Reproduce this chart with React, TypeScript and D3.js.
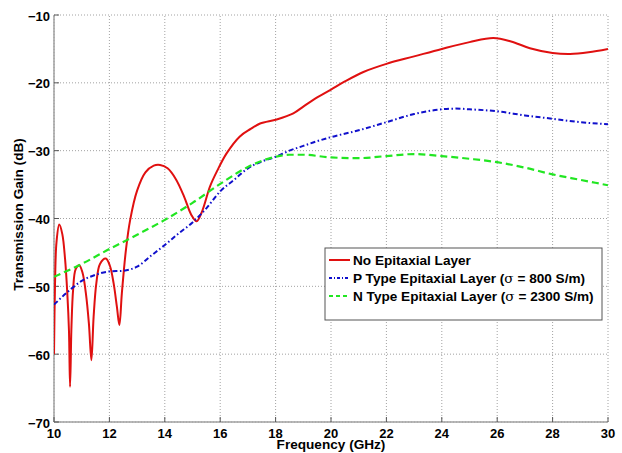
import React from 'react';
import * as d3 from 'd3';

// frequency (GHz) / gain (dB)
const redFreq = [10.0, 10.04, 10.09, 10.19, 10.3, 10.4, 10.48, 10.54, 10.58, 10.63, 10.69, 10.78, 10.91, 11.03, 11.15, 11.26, 11.35, 11.43, 11.53, 11.66, 11.87, 12.02, 12.15, 12.27, 12.36, 12.45, 12.6, 12.75, 13.0, 13.3, 13.6, 13.83, 14.1, 14.4, 14.7, 14.95, 15.15, 15.35, 15.63, 15.9, 16.23, 16.71, 17.1, 17.44, 18.04, 18.64, 19.0, 19.36, 20.0, 20.5, 21.17, 22.0, 23.0, 24.0, 25.0, 25.86, 26.5, 27.18, 28.0, 28.63, 29.3, 30.0];
const redGain = [-60, -49, -43.5, -40.9, -42.3, -46, -51, -56.5, -64.8, -56, -50.5, -47.5, -46.9, -48, -51, -55.5, -60.9, -54.5, -49.5, -46.7, -45.9, -47, -49.5, -53, -55.7, -51, -44.5, -40.2, -35.9, -33.2, -32.2, -32.1, -32.6, -34.2, -36.8, -39.4, -40.4, -38.9, -35.3, -32.9, -30.4, -27.9, -26.8, -26.0, -25.4, -24.5, -23.5, -22.5, -21.0, -19.8, -18.4, -17.2, -16.1, -15.0, -14.0, -13.4, -13.9, -14.9, -15.6, -15.75, -15.5, -15.0];

const blueFreq = [10, 10.5, 11, 11.5, 12, 12.5, 13, 13.5, 14, 14.5, 15, 15.5, 16, 16.5, 17, 17.5, 18, 18.5, 19, 19.5, 20, 21, 22, 23, 24, 24.5, 25, 26, 27, 28, 29, 30];
const blueGain = [-52.7, -50.8, -49.2, -48.3, -47.8, -47.7, -47.1, -45.5, -43.9, -42.2, -40.6, -38.5, -36.0, -34.3, -32.6, -31.6, -30.9, -30.0, -29.3, -28.6, -28.0, -27.0, -25.8, -24.6, -23.9, -23.8, -23.9, -24.2, -24.8, -25.3, -25.8, -26.1];

const greenFreq = [10, 11, 12, 13, 14, 15, 16, 17, 18, 18.5, 19, 20, 21, 22, 23, 24, 25, 26, 27, 28, 29, 30];
const greenGain = [-48.6, -46.7, -44.5, -42.4, -40.2, -37.7, -34.9, -32.4, -30.9, -30.6, -30.6, -31.0, -31.1, -30.8, -30.5, -30.8, -31.2, -31.7, -32.5, -33.5, -34.3, -35.1];

const xTicks = [10, 12, 14, 16, 18, 20, 22, 24, 26, 28, 30];
const yTicks = [-70, -60, -50, -40, -30, -20, -10];

const legendLabels = ['No Epitaxial Layer', 'P Type Epitaxial Layer (', 'N Type Epitaxial Layer ('];
const legendSigma = ['', ' = 800 S/m)', ' = 2300 S/m)'];

const W = 622, H = 453;
const m = { left: 54, top: 15, right: 14, bottom: 31 };
const font = '"Liberation Sans", Arial, Helvetica, sans-serif';

export default function App() {
  const x = d3.scaleLinear().domain([10, 30]).range([m.left, W - m.right]);
  const y = d3.scaleLinear().domain([-70, -10]).range([H - m.bottom, m.top]);
  const mk = (fs: number[], gs: number[], curve: d3.CurveFactory) =>
    d3.line<number>().x((_, i) => x(fs[i])).y((g) => y(g)).curve(curve)(gs) || '';

  const series = [
    { d: mk(redFreq, redGain, d3.curveCatmullRom.alpha(0.5)), color: '#e01010', dash: undefined as string | undefined, w: 2 },
    { d: mk(blueFreq, blueGain, d3.curveMonotoneX), color: '#1010cc', dash: '5 2.5 1.5 2.5', w: 2 },
    { d: mk(greenFreq, greenGain, d3.curveMonotoneX), color: '#22e622', dash: '7 4', w: 2.2 },
  ];

  const x0 = m.left, x1 = W - m.right, y0 = H - m.bottom, y1 = m.top;
  const lx = 325, ly = 248, lw = 277, lh = 72;

  return (
    <div style={{ position: 'absolute', left: 0, top: 0 }}>
      <svg width={W} height={H} style={{ display: 'block', background: '#fff' }} fontFamily={font}>
        <defs>
          <clipPath id="plot">
            <rect x={x0} y={y1} width={x1 - x0} height={y0 - y1} />
          </clipPath>
        </defs>
        {/* grid */}
        {xTicks.map((t) => (
          <line key={'gx' + t} x1={x(t)} x2={x(t)} y1={y0} y2={y1} stroke="#8a8a8a" strokeWidth={0.8} strokeDasharray="1 2" />
        ))}
        {yTicks.map((t) => (
          <line key={'gy' + t} x1={x0} x2={x1} y1={y(t)} y2={y(t)} stroke="#8a8a8a" strokeWidth={0.8} strokeDasharray="1 2" />
        ))}
        {/* axes */}
        <line x1={x0} x2={x0} y1={y0} y2={y1} stroke="#a0a0a0" strokeWidth={1.5} />
        <line x1={x0} x2={x1} y1={y0} y2={y0} stroke="#a0a0a0" strokeWidth={1.5} />
        {xTicks.map((t) => (
          <g key={'tx' + t}>
            <line x1={x(t)} x2={x(t)} y1={y0} y2={y0 - 5} stroke="#555" strokeWidth={1} />
            <text x={x(t)} y={437.5} textAnchor="middle" fontSize={13} fontWeight="bold">{t}</text>
          </g>
        ))}
        {yTicks.map((t) => (
          <g key={'ty' + t}>
            <line x1={x0} x2={x0 + 5} y1={y(t)} y2={y(t)} stroke="#555" strokeWidth={1} />
            <text x={x0 - 4} y={y(t) + 5.5} textAnchor="end" fontSize={13} fontWeight="bold">{'\u2212' + Math.abs(t)}</text>
          </g>
        ))}
        {/* series */}
        <g clipPath="url(#plot)" fill="none">
          {series.map((s, i) => (
            <path key={i} d={s.d} stroke={s.color} strokeWidth={s.w} strokeDasharray={s.dash} strokeLinejoin="round" />
          ))}
        </g>
        {/* axis titles */}
        <text x={331} y={449.3} textAnchor="middle" fontSize={13.6} fontWeight="bold">Frequency (GHz)</text>
        <text transform="translate(23,214.5) rotate(-90)" textAnchor="middle" fontSize={13.6} fontWeight="bold">Transmission Gain (dB)</text>
        {/* legend */}
        <rect x={lx} y={ly} width={lw} height={lh} fill="#fff" stroke="#555" strokeWidth={1} />
        {series.map((s, i) => {
          const ry = ly + 12 + i * 18;
          return (
            <g key={'lg' + i}>
              <line x1={lx + 4} x2={lx + 25} y1={ry} y2={ry} stroke={s.color} strokeWidth={s.w} strokeDasharray={s.dash ? (i === 1 ? '3 2 1 2' : '4 3') : undefined} />
              <text x={lx + 28} y={ry + 5} fontSize={13.6} fontWeight="bold">
                {legendLabels[i]}
                {legendSigma[i] && <tspan fontWeight="normal" fontFamily='"DejaVu Serif", serif'>σ</tspan>}
                {legendSigma[i]}
              </text>
            </g>
          );
        })}
      </svg>
    </div>
  );
}
